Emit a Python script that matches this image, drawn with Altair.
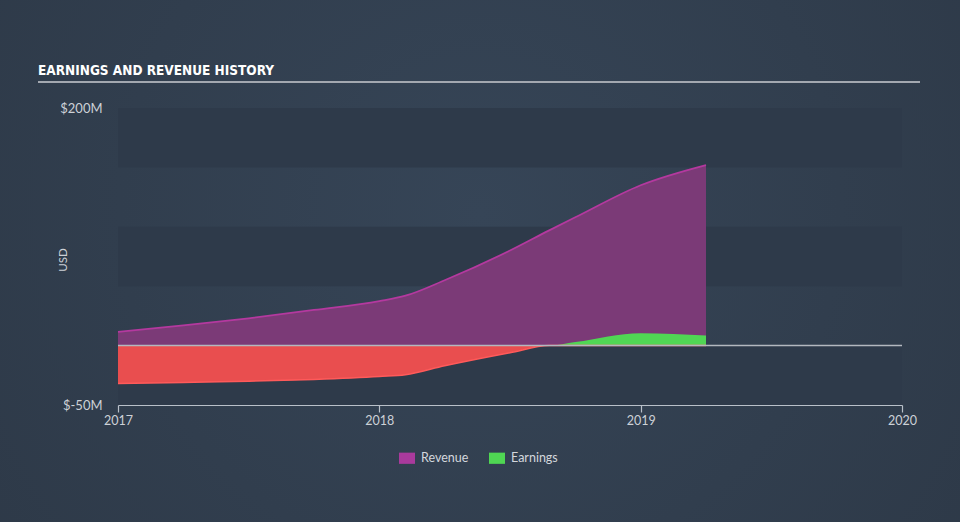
import altair as alt
import pandas as pd

# ---- data ----
years = [2017.0, 2017.25, 2017.5, 2017.75, 2018.0, 2018.1, 2018.25, 2018.5, 2018.65, 2018.75, 2019.0, 2019.25]
revenue = [11.5, 17, 23, 30, 37.5, 42, 55, 80, 97, 108, 135, 152]
earnings = [-32, -31, -30, -28.5, -26, -24.5, -17, -6, 0, 3, 10.5, 8.5]

band_lo = [150, 50, -50]
band_hi = [200, 100, 0]

x_ticks = [2017, 2018, 2019, 2020]
y_ticks = [-50, 200]
series = ["Revenue", "Earnings"]
series_colors = ["#a93a9c", "#4fd653"]

W, H = 784, 297
FONT = "Lato"
LABEL_COLOR = "#cdd1d7"

df = pd.DataFrame({
    "t": years,
    "rev": revenue,
    "neg": [min(e, 0) for e in earnings],
    "pos": [max(e, 0) for e in earnings],
    "zero": [0] * len(years),
})
bands = pd.DataFrame({"v": band_lo, "v2": band_hi})
leg = pd.DataFrame({"s": series, "t": [2017, 2017], "v": [0, 0]})

xscale = alt.Scale(domain=[2017, 2020], nice=False, zero=False)
yscale = alt.Scale(domain=[-50, 200], nice=False, zero=False)
xaxis = alt.Axis(values=x_ticks, format="d", title=None, grid=False, zindex=1,
                 labelFlush=False,
                 domainColor="#b9c0c9", tickColor="#b9c0c9", tickSize=7,
                 domainWidth=1.2, tickWidth=1.2,
                 labelPadding=2, labelColor=LABEL_COLOR, labelFont=FONT, labelFontSize=12.5)
yaxis = alt.Axis(values=y_ticks, labelExpr="'$' + datum.value + 'M'", title=None, zindex=1,
                 grid=False, domain=False, ticks=False, labelPadding=16, labelFlush=False,
                 labelColor=LABEL_COLOR, labelFont=FONT, labelFontSize=13)


def X(field):
    return alt.X(field, type="quantitative", scale=xscale, axis=xaxis)


def Y(field):
    return alt.Y(field, type="quantitative", scale=yscale, axis=yaxis)


one = alt.Data(values=[{"a": 1}])

bg = alt.Chart(one).mark_rect(
    color=alt.RadialGradient(
        gradient="radial", x1=0.5, y1=0.45, x2=0.5, y2=0.45, r1=0, r2=0.75,
        stops=[alt.GradientStop(offset=0, color="#364557"),
               alt.GradientStop(offset=1, color="#2c3745")])
).encode(x=alt.value(-118), x2=alt.value(842), y=alt.value(-108), y2=alt.value(414))

band_layer = alt.Chart(bands).mark_rect(color="#2e3a4a").encode(
    x=alt.value(0), x2=alt.value(W), y=Y("v"), y2="v2")

rev_area = alt.Chart(df).mark_area(color="#7b3a77", interpolate="monotone").encode(
    x=X("t"), y=Y("rev"), y2="zero")

neg_area = alt.Chart(df).mark_area(color="#e94e4f", interpolate="monotone").encode(
    x=X("t"), y=Y("neg"), y2="zero")

pos_area = alt.Chart(df).mark_area(color="#50d654", interpolate="monotone").encode(
    x=X("t"), y=Y("pos"), y2="zero")

rev_line = alt.Chart(df).mark_line(color="#b4399f", strokeWidth=1.8, interpolate="monotone").encode(
    x=X("t"), y=Y("rev"))

neg_line = alt.Chart(df).mark_line(color="#ff5a5a", strokeWidth=1.5, interpolate="monotone").encode(
    x=X("t"), y=Y("neg"))

zero_rule = alt.Chart(alt.Data(values=[{"v": 0}])).mark_rule(color="#b3b8bf", strokeWidth=1.5).encode(
    y=Y("v"), x=alt.value(0), x2=alt.value(W))

legend_layer = alt.Chart(leg).mark_square(opacity=0, size=1).encode(
    x=X("t"), y=Y("v"),
    color=alt.Color("s:N", sort=series,
                    scale=alt.Scale(domain=series, range=series_colors),
                    legend=alt.Legend(orient="none", legendX=281, legendY=342,
                                      direction="horizontal", title=None,
                                      symbolType="M-1,-0.7L1,-0.7L1,0.7L-1,0.7Z",
                                      symbolSize=256, symbolOpacity=1, symbolStrokeWidth=0,
                                      labelColor="#d3d7dd", labelFont=FONT, labelFontSize=12.5,
                                      labelOffset=6, columnPadding=20, padding=0)))

title_text = alt.Chart(one).mark_text(
    text="EARNINGS AND REVENUE HISTORY", align="left", baseline="alphabetic",
    font="DejaVu Sans Condensed, sans-serif",
    fontWeight="bold", fontSize=13.5, color="#ffffff"
).encode(x=alt.value(-80), y=alt.value(-33))

title_rule = alt.Chart(one).mark_rule(color="#a3a8b0", strokeWidth=2).encode(
    x=alt.value(-80), x2=alt.value(802), y=alt.value(-26))

usd_text = alt.Chart(one).mark_text(
    text="USD", angle=270, align="center", baseline="middle",
    font=FONT, fontSize=11.5, color=LABEL_COLOR
).encode(x=alt.value(-54), y=alt.value(152))

chart = alt.layer(
    bg, band_layer, rev_area, neg_area, pos_area, rev_line, neg_line, zero_rule,
    legend_layer, title_text, title_rule, usd_text
).properties(
    width=W, height=H,
    autosize=alt.AutoSizeParams(type="none"),
    padding={"left": 118, "top": 108, "right": 58, "bottom": 117},
    background="#323e4e",
).configure_view(stroke=None)

chart.save("out.html", embed_options={"renderer": "svg", "actions": False})
